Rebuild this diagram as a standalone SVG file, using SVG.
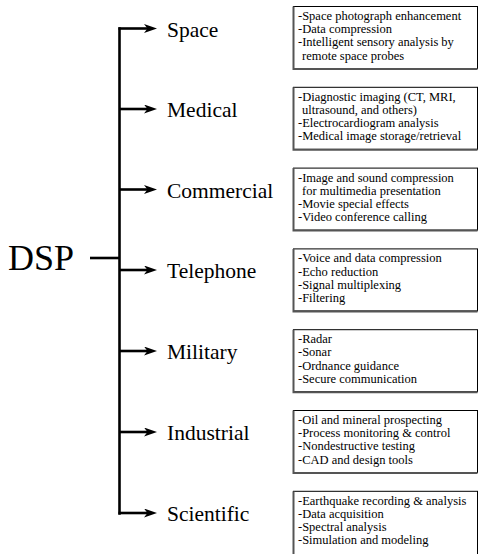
<svg xmlns="http://www.w3.org/2000/svg" width="481" height="554" viewBox="0 0 481 554">
<defs>
<marker id="ah" markerUnits="userSpaceOnUse" markerWidth="14" markerHeight="10" refX="6" refY="4.5" orient="auto">
<path d="M0,0 L13,4.5 L0,9 L3.5,4.5 Z" fill="#000"/>
</marker>
</defs>
<style>
.lbl{font-family:"Liberation Serif","Times New Roman",serif;font-size:21.5px;fill:#000}
.dsp{font-family:"Liberation Serif","Times New Roman",serif;font-size:36px;fill:#000}
.bt{font-family:"Liberation Serif","Times New Roman",serif;font-size:12.5px;fill:#000}
.br{fill:#fff;stroke:#000;stroke-width:1}
.sh{fill:none;stroke:#555;stroke-width:2}
.cn{fill:none;stroke:#000;stroke-width:2.6}
</style>
<rect width="481" height="554" fill="#fff"/>
<g id="connectors">
<path class="cn" d="M90,258 H119.5"/>
<path class="cn" d="M119.5,28.5 V513.5" stroke-linecap="square"/>
<path class="cn" d="M118.5,28.5 H150" marker-end="url(#ah)"/>
<path class="cn" d="M119.5,109 H150" marker-end="url(#ah)"/>
<path class="cn" d="M119.5,189.5 H150" marker-end="url(#ah)"/>
<path class="cn" d="M119.5,270 H150" marker-end="url(#ah)"/>
<path class="cn" d="M119.5,351 H150" marker-end="url(#ah)"/>
<path class="cn" d="M119.5,432 H150" marker-end="url(#ah)"/>
<path class="cn" d="M118.5,513 H150" marker-end="url(#ah)"/>
</g>
<g id="dsp"><text class="dsp" x="8" y="270">DSP</text></g>
<g id="space">
<text class="lbl" x="167" y="37">Space</text>
<rect class="br" x="293.5" y="6.5" width="184" height="62"/>
<path class="sh" d="M293.5,6.5 V69 H477.5"/>
<text class="bt" x="298" y="20">-Space photograph enhancement</text>
<text class="bt" x="298" y="33.2">-Data compression</text>
<text class="bt" x="298" y="46.4">-Intelligent sensory analysis by</text>
<text class="bt" x="302" y="59.6">remote space probes</text>
</g>
<g id="medical">
<text class="lbl" x="167" y="117">Medical</text>
<rect class="br" x="293.5" y="87.3" width="184" height="62"/>
<path class="sh" d="M293.5,87.3 V149.8 H477.5"/>
<text class="bt" x="298" y="100.8">-Diagnostic imaging  (CT, MRI,</text>
<text class="bt" x="302" y="114">ultrasound, and others)</text>
<text class="bt" x="298" y="127.2">-Electrocardiogram analysis</text>
<text class="bt" x="298" y="140.4">-Medical image storage/retrieval</text>
</g>
<g id="commercial">
<text class="lbl" x="167" y="197.5">Commercial</text>
<rect class="br" x="293.5" y="168.1" width="184" height="62"/>
<path class="sh" d="M293.5,168.1 V230.6 H477.5"/>
<text class="bt" x="298" y="181.6">-Image and sound compression</text>
<text class="bt" x="302" y="194.8">for multimedia presentation</text>
<text class="bt" x="298" y="208">-Movie special effects</text>
<text class="bt" x="298" y="221.2">-Video conference calling</text>
</g>
<g id="telephone">
<text class="lbl" x="167" y="278">Telephone</text>
<rect class="br" x="293.5" y="248.9" width="184" height="62"/>
<path class="sh" d="M293.5,248.9 V311.4 H477.5"/>
<text class="bt" x="298" y="262.4">-Voice and data compression</text>
<text class="bt" x="298" y="275.6">-Echo reduction</text>
<text class="bt" x="298" y="288.8">-Signal multiplexing</text>
<text class="bt" x="298" y="302">-Filtering</text>
</g>
<g id="military">
<text class="lbl" x="167" y="359">Military</text>
<rect class="br" x="293.5" y="329.7" width="184" height="62"/>
<path class="sh" d="M293.5,329.7 V392.2 H477.5"/>
<text class="bt" x="298" y="343.2">-Radar</text>
<text class="bt" x="298" y="356.4">-Sonar</text>
<text class="bt" x="298" y="369.6">-Ordnance guidance</text>
<text class="bt" x="298" y="382.8">-Secure communication</text>
</g>
<g id="industrial">
<text class="lbl" x="167" y="440">Industrial</text>
<rect class="br" x="293.5" y="410.5" width="184" height="62"/>
<path class="sh" d="M293.5,410.5 V473 H477.5"/>
<text class="bt" x="298" y="424">-Oil and mineral prospecting</text>
<text class="bt" x="298" y="437.2">-Process monitoring &amp; control</text>
<text class="bt" x="298" y="450.4">-Nondestructive testing</text>
<text class="bt" x="298" y="463.6">-CAD and design tools</text>
</g>
<g id="scientific">
<text class="lbl" x="167" y="521">Scientific</text>
<rect class="br" x="293.5" y="491.3" width="184" height="64"/>
<path class="sh" d="M293.5,491.3 V556"/>
<text class="bt" x="298" y="504.8">-Earthquake recording &amp; analysis</text>
<text class="bt" x="298" y="518">-Data acquisition</text>
<text class="bt" x="298" y="531.2">-Spectral analysis</text>
<text class="bt" x="298" y="544.4">-Simulation and modeling</text>
</g>
</svg>
